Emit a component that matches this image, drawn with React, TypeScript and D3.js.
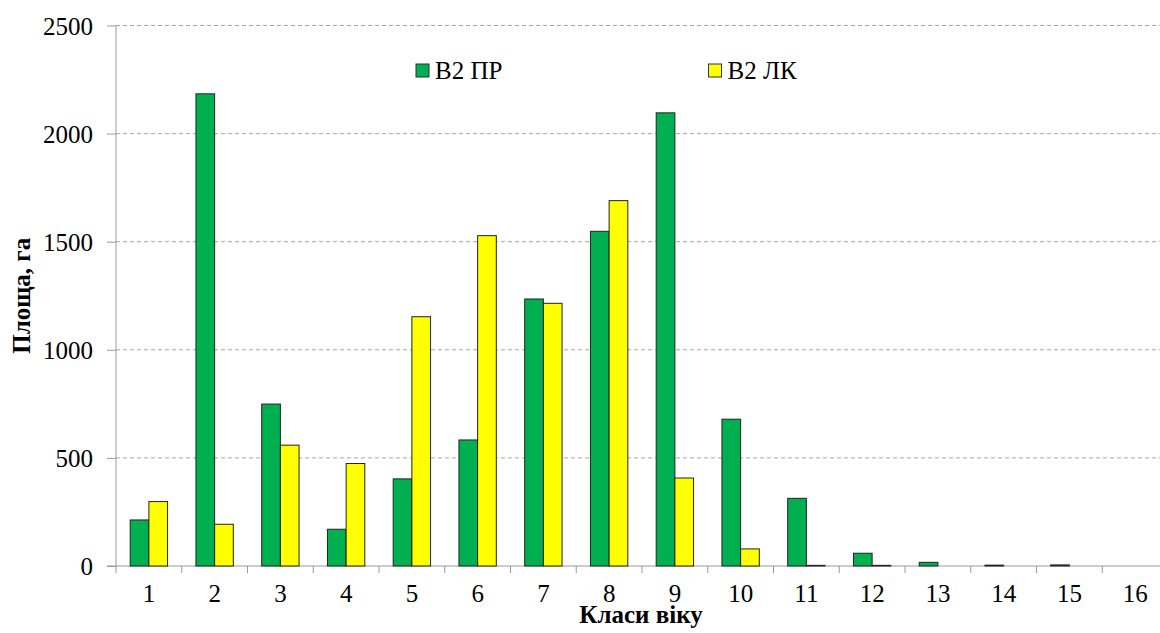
import React, { useEffect, useRef } from "react";
import * as d3 from "d3";

// age classes and the two series (area, ha)
const classes = ["1", "2", "3", "4", "5", "6", "7", "8", "9", "10", "11", "12", "13", "14", "15", "16"];
const seriesNames = ["В2 ПР", "В2 ЛК"];
const valuesPR = [213, 2184, 749, 170, 403, 583, 1235, 1548, 2096, 679, 313, 59, 17, 4, 5, 0];
const valuesLK = [298, 193, 559, 474, 1153, 1528, 1215, 1690, 407, 79, 3, 3, 0, 0, 0, 0];
const yTicks = [0, 500, 1000, 1500, 2000, 2500];
const colors = ["#00B050", "#FFFF00"];

const font = "Liberation Serif, DejaVu Serif, serif";

export default function App() {
  const ref = useRef<SVGSVGElement>(null);

  useEffect(() => {
    const width = 1160;
    const height = 633;
    const left = 116;
    const right = 1168; // plot runs a bit past the picture's right edge
    const top = 25.5;
    const bottom = 566;

    const svg = d3.select(ref.current).attr("width", width).attr("height", height);
    svg.selectAll("*").remove();

    const x = d3.scaleBand().domain(classes).range([left, right]).paddingInner(0).paddingOuter(0);
    const xInner = d3.scaleBand().domain(seriesNames).range([0, x.bandwidth()]).paddingInner(0).paddingOuter(0.76);
    const y = d3.scaleLinear().domain([0, 2500]).range([bottom, top]);

    // gridlines
    svg.append("g")
      .selectAll("line")
      .data(yTicks.filter(d => d > 0))
      .join("line")
      .attr("x1", left).attr("x2", width)
      .attr("y1", d => y(d)).attr("y2", d => y(d))
      .attr("stroke", "#a6a6a6")
      .attr("stroke-dasharray", "4,3");

    // y axis
    const yAxis = svg.append("g").attr("transform", `translate(${left},0)`)
      .call(d3.axisLeft(y).tickValues(yTicks).tickFormat(d3.format("d")).tickSize(9).tickPadding(14));
    yAxis.attr("font-family", null).attr("font-size", null);
    yAxis.select(".domain").attr("stroke", "#999").attr("d", `M0,${bottom}V${top}`);
    yAxis.selectAll(".tick line").attr("stroke", "#999");
    yAxis.selectAll(".tick text")
      .style("font-family", font).style("font-size", "25px").attr("fill", "#000").attr("dy", "0.34em");

    // x axis: ticks at class boundaries
    const boundaries = d3.range(classes.length + 1).map(i => left + i * x.step());
    svg.append("line")
      .attr("x1", left - 9).attr("x2", width)
      .attr("y1", bottom).attr("y2", bottom)
      .attr("stroke", "#999");
    svg.append("g")
      .selectAll("line")
      .data(boundaries)
      .join("line")
      .attr("x1", d => d).attr("x2", d => d)
      .attr("y1", bottom).attr("y2", bottom + 7)
      .attr("stroke", "#999");
    svg.append("g")
      .selectAll("text")
      .data(classes)
      .join("text")
      .attr("x", d => (x(d) as number) + x.bandwidth() / 2)
      .attr("y", 602)
      .attr("text-anchor", "middle")
      .style("font-family", font).style("font-size", "25px")
      .text(d => d);

    // bars
    const rows = classes.map((c, i) => ({ c, vals: [valuesPR[i], valuesLK[i]] }));
    const groups = svg.append("g")
      .selectAll("g")
      .data(rows)
      .join("g")
      .attr("transform", d => `translate(${x(d.c)},0)`);
    groups.selectAll("rect")
      .data(d => d.vals.map((v, k) => ({ v, k })).filter(e => e.v > 0))
      .join("rect")
      .attr("x", e => xInner(seriesNames[e.k]) as number)
      .attr("width", xInner.bandwidth())
      .attr("y", e => y(e.v))
      .attr("height", e => bottom - y(e.v))
      .attr("fill", e => colors[e.k])
      .attr("stroke", "#222")
      .attr("stroke-width", 1);

    // legend
    const legendX = [416, 708.5];
    seriesNames.forEach((name, k) => {
      svg.append("rect")
        .attr("x", legendX[k]).attr("y", 64)
        .attr("width", 13).attr("height", 13)
        .attr("fill", colors[k]).attr("stroke", "#333");
      svg.append("text")
        .attr("x", legendX[k] + 19).attr("y", 79)
        .style("font-family", font).style("font-size", "25px")
        .text(name);
    });

    // axis titles
    svg.append("text")
      .attr("transform", `translate(30, ${(top + bottom) / 2}) rotate(-90)`)
      .attr("text-anchor", "middle")
      .style("font-family", font).style("font-size", "25px").style("font-weight", "bold")
      .text("Площа, га");

    svg.append("text")
      .attr("x", 641).attr("y", 623)
      .attr("text-anchor", "middle")
      .style("font-family", font).style("font-size", "25px").style("font-weight", "bold")
      .text("Класи віку");
  }, []);

  return (
    <svg ref={ref} style={{ position: "absolute", left: 0, top: 0, background: "#fff" }}></svg>
  );
}
